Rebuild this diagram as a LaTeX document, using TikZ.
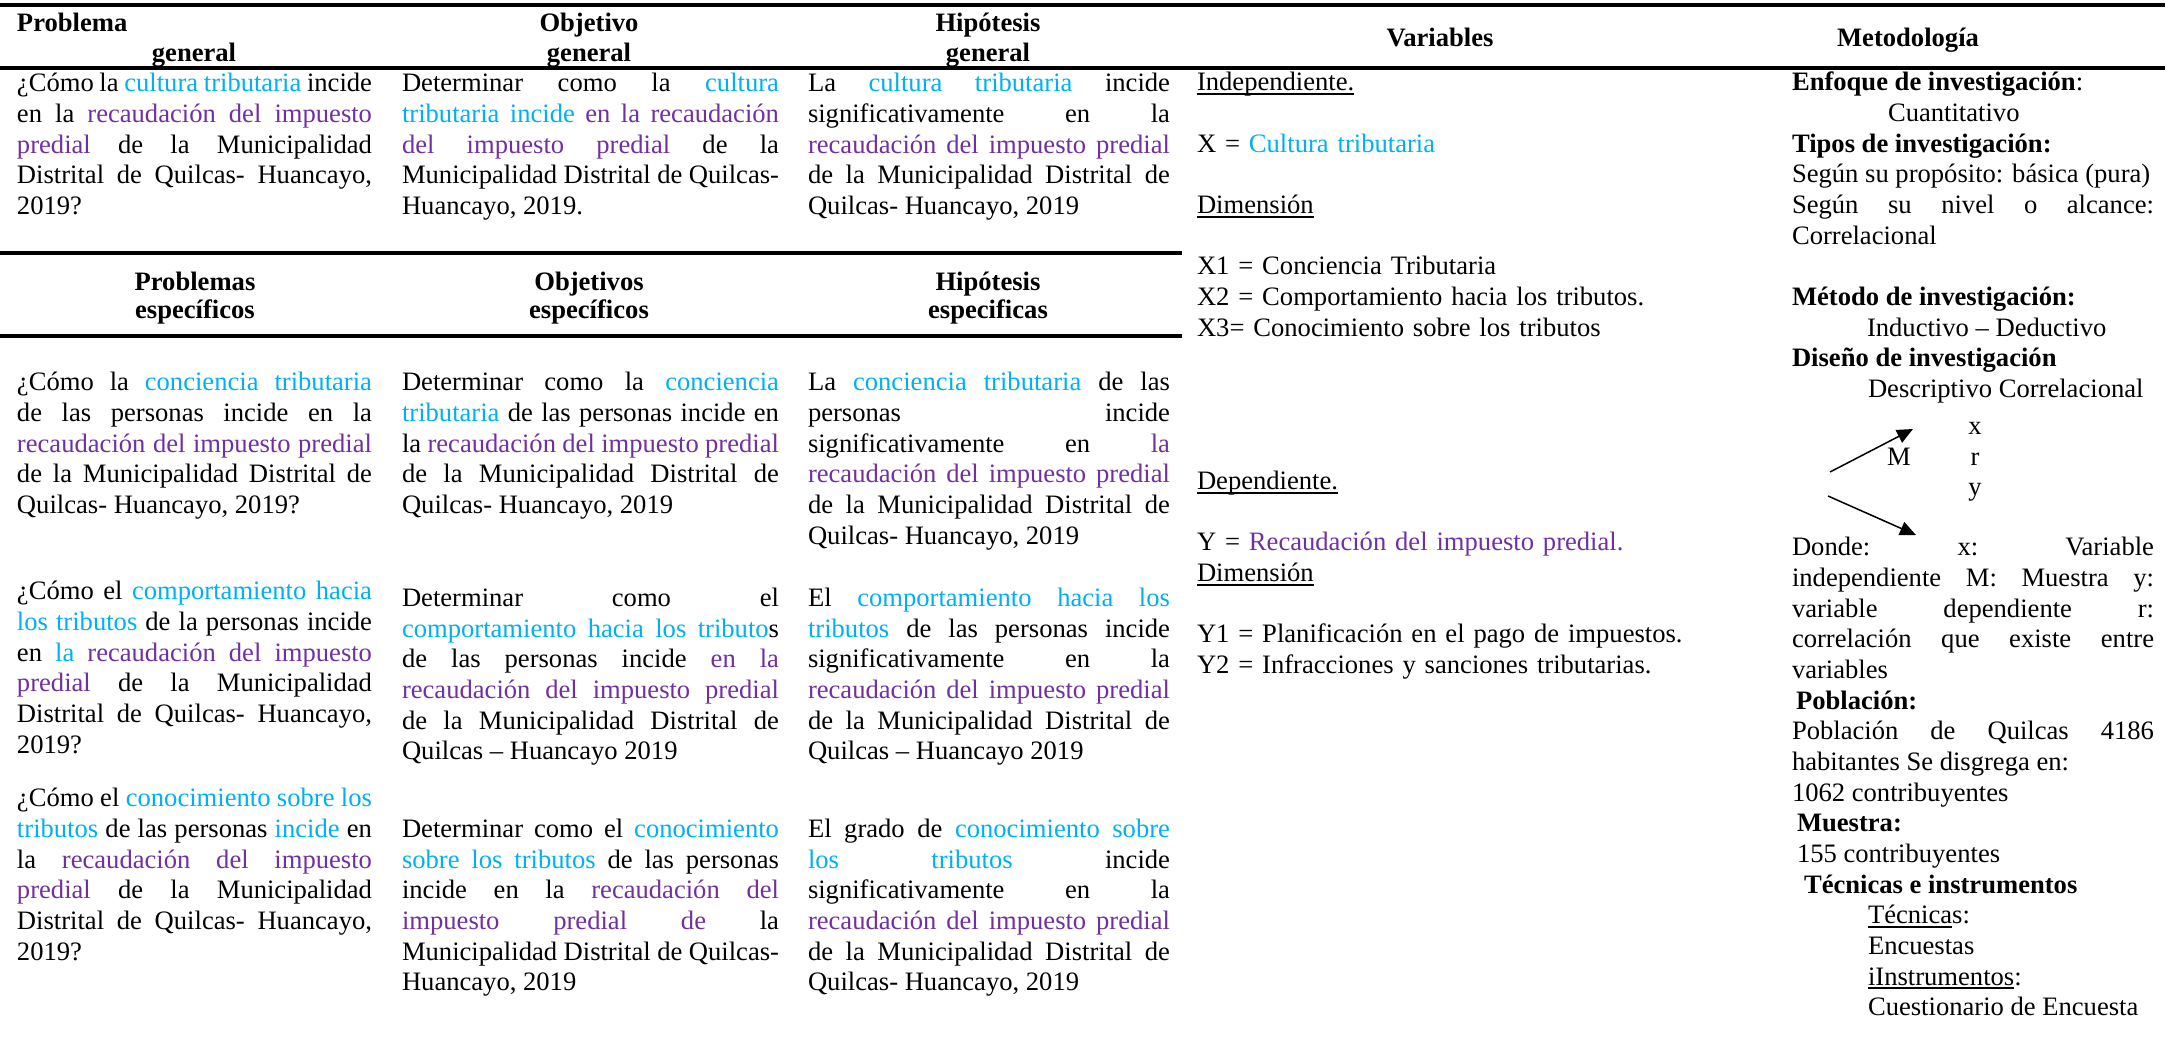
\documentclass[tikz,border=0pt]{standalone}
\usepackage{fontspec}
\setmainfont{Liberation Serif}
\usetikzlibrary{arrows.meta}
\definecolor{celeste}{HTML}{00B0F0}
\definecolor{lila}{HTML}{7030A0}
\newcommand{\cel}[1]{{\color{celeste}#1}}
\newcommand{\lil}[1]{{\color{lila}#1}}
\newsavebox{\cajasub}
\newcommand{\subr}[1]{\leavevmode\sbox{\cajasub}{#1}\rlap{\rule[-2pt]{\wd\cajasub}{0.9pt}}\usebox{\cajasub}}
\tolerance=10000 \hbadness=10000 \hyphenpenalty=10000 \exhyphenpenalty=10000
\setlength{\parindent}{0pt}
\tikzset{
  texto/.style={inner sep=0pt, outer sep=0pt, font=\fontsize{13.3pt}{15.33pt}\selectfont},
  celda/.style={texto, anchor=north west, align=justify, execute at begin node=\strut},
  titulo/.style={texto, anchor=base, font=\fontsize{13.3pt}{15.33pt}\selectfont\bfseries},
  regla/.style={line width=1.7pt},
  flecha/.style={-{Triangle[length=8pt,width=7pt]}, line width=0.75pt}
}

\begin{document}
\begin{tikzpicture}[x=0.5pt, y=-0.5pt]
      \useasboundingbox (0,0) rectangle (2176,1057);

      \draw[regla] (0,5) -- (2165,5);
      \draw[regla] (0,68) -- (2165,68);
      \draw[regla] (0,253) -- (1182,253);
      \draw[regla] (0,336) -- (1182,336);

      \node (probA) [titulo, anchor=base west] at (17,31) {Problema};
      \node (probB) [titulo] at (194,61) {general};
      \node (objA) [titulo] at (589,31) {Objetivo};
      \node (objB) [titulo] at (589,61) {general};
      \node (hipA) [titulo] at (988,31) {Hipótesis};
      \node (hipB) [titulo] at (988,61) {general};
      \node (vars) [titulo] at (1440,46) {Variables};
      \node (meto) [titulo] at (1908,46) {Metodología};

      \node (probEA) [titulo] at (195,290) {Problemas};
      \node (probEB) [titulo] at (195,318) {específicos};
      \node (objEA) [titulo] at (589,290) {Objetivos};
      \node (objEB) [titulo] at (589,318) {específicos};
      \node (hipEA) [titulo] at (988,290) {Hipótesis};
      \node (hipEB) [titulo] at (988,318) {especificas};

      \node (pg) [celda, text width=177.5pt] at (17,70.5) {
        ¿Cómo la \cel{cultura tributaria} incide\linebreak
        en la \lil{recaudación del impuesto}\linebreak
        \lil{predial} de la Municipalidad\linebreak
        Distrital de Quilcas- Huancayo,\linebreak
        2019?};
      \node (og) [celda, text width=188.5pt] at (402,70.5) {
        Determinar como la \cel{cultura}\linebreak
        \cel{tributaria incide} \lil{en la recaudación}\linebreak
        \lil{del impuesto predial} de la\linebreak
        Municipalidad Distrital de Quilcas-\linebreak
        Huancayo, 2019.};
      \node (hg) [celda, text width=181pt] at (808,70.5) {
        La \cel{cultura tributaria} incide\linebreak
        significativamente en la\linebreak
        \lil{recaudación del impuesto predial}\linebreak
        de la Municipalidad Distrital de\linebreak
        Quilcas- Huancayo, 2019};

      \node (pe1) [celda, text width=177.5pt] at (17,369.5) {
        ¿Cómo la \cel{conciencia tributaria}\linebreak
        de las personas incide en la\linebreak
        \lil{recaudación del impuesto predial}\linebreak
        de la Municipalidad Distrital de\linebreak
        Quilcas- Huancayo, 2019?};
      \node (oe1) [celda, text width=188.5pt] at (402,369.5) {
        Determinar como la \cel{conciencia}\linebreak
        \cel{tributaria} de las personas incide en\linebreak
        la \lil{recaudación del impuesto predial}\linebreak
        de la Municipalidad Distrital de\linebreak
        Quilcas- Huancayo, 2019};
      \node (he1) [celda, text width=181pt] at (808,369.5) {
        La \cel{conciencia tributaria} de las\linebreak
        personas incide\linebreak
        significativamente en \lil{la}\linebreak
        \lil{recaudación del impuesto predial}\linebreak
        de la Municipalidad Distrital de\linebreak
        Quilcas- Huancayo, 2019};

      \node (pe2) [celda, text width=177.5pt] at (17,578.5) {
        ¿Cómo el \cel{comportamiento hacia}\linebreak
        \cel{los tributos} de la personas incide\linebreak
        en \cel{la} \lil{recaudación del impuesto}\linebreak
        \lil{predial} de la Municipalidad\linebreak
        Distrital de Quilcas- Huancayo,\linebreak
        2019?};
      \node (oe2) [celda, text width=188.5pt] at (402,585) {
        Determinar como el\linebreak
        \cel{comportamiento hacia los tributo}s\linebreak
        de las personas incide \lil{en la}\linebreak
        \lil{recaudación del impuesto predial}\linebreak
        de la Municipalidad Distrital de\linebreak
        Quilcas – Huancayo 2019};
      \node (he2) [celda, text width=181pt] at (808,585) {
        El \cel{comportamiento hacia los}\linebreak
        \cel{tributos} de las personas incide\linebreak
        significativamente en la\linebreak
        \lil{recaudación del impuesto predial}\linebreak
        de la Municipalidad Distrital de\linebreak
        Quilcas – Huancayo 2019};

      \node (pe3) [celda, text width=177.5pt] at (17,785.5) {
        ¿Cómo el \cel{conocimiento sobre los}\linebreak
        \cel{tributos} de las personas \cel{incide} en\linebreak
        la \lil{recaudación del impuesto}\linebreak
        \lil{predial} de la Municipalidad\linebreak
        Distrital de Quilcas- Huancayo,\linebreak
        2019?};
      \node (oe3) [celda, text width=188.5pt] at (402,816) {
        Determinar como el \cel{conocimiento}\linebreak
        \cel{sobre los tributos} de las personas\linebreak
        incide en la \lil{recaudación del}\linebreak
        \lil{impuesto predial de} la\linebreak
        Municipalidad Distrital de Quilcas-\linebreak
        Huancayo, 2019};
      \node (he3) [celda, text width=181pt] at (808,816) {
        El grado de \cel{conocimiento sobre}\linebreak
        \cel{los tributos} incide\linebreak
        significativamente en la\linebreak
        \lil{recaudación del impuesto predial}\linebreak
        de la Municipalidad Distrital de\linebreak
        Quilcas- Huancayo, 2019};

      \node (varcol) [celda, text width=280pt, align=left] at (1197,69.5) {
        \subr{Independiente.}\par\mbox{}\par
        X = \cel{Cultura tributaria}\par\mbox{}\par
        \subr{Dimensión}\par\mbox{}\par
        X1 = Conciencia Tributaria\par
        X2 = Comportamiento hacia los tributos.\par
        X3= Conocimiento sobre los tributos\par
        \mbox{}\par\mbox{}\par\mbox{}\par\mbox{}\par
        \subr{Dependiente.}\par\mbox{}\par
        Y = \lil{Recaudación del impuesto predial.}\par
        \subr{Dimensión}\par\mbox{}\par
        Y1 = Planificación en el pago de impuestos.\par
        Y2 = Infracciones y sanciones tributarias.};

      \node (metoA) [celda, text width=181pt] at (1792,69.5) {
        \textbf{Enfoque de investigación}:\par
        \hspace*{48pt}Cuantitativo\par
        \textbf{Tipos de investigación:}\par
        Según su propósito: básica (pura)\par
        Según su nivel o alcance:\linebreak
        Correlacional\par\mbox{}\par
        \textbf{Método de investigación:}\par
        \hspace*{37.5pt}Inductivo – Deductivo\par
        \textbf{Diseño de investigación}\par
        \hspace*{38pt}Descriptivo Correlacional};

      \node (dx) [texto, anchor=base] at (1975,434) {x};
      \node (dM) [texto, anchor=base] at (1899,465) {M};
      \node (dr) [texto, anchor=base] at (1975,465) {r};
      \node (dy) [texto, anchor=base] at (1975,495) {y};
      \coordinate (m1) at (1830,472);
      \coordinate (px) at (1913,429);
      \coordinate (m2) at (1828,496);
      \coordinate (py) at (1916,535);
      \draw[flecha] (m1) to (px);
      \draw[flecha] (m2) to (py);

      \node (metoB) [celda, text width=181pt] at (1792,534.5) {
        Donde: x: Variable\linebreak
        independiente M: Muestra y:\linebreak
        variable dependiente r:\linebreak
        correlación que existe entre\linebreak
        variables\par
        \hspace*{2pt}\textbf{Población:}\par
        Población de Quilcas 4186\linebreak
        habitantes Se disgrega en:\par
        1062 contribuyentes\par
        \hspace*{2.5pt}\textbf{Muestra:}\par
        \hspace*{2.5pt}155 contribuyentes\par
        \hspace*{6pt}\textbf{Técnicas e instrumentos}\par
        \hspace*{38pt}\subr{Técnica}s:\par
        \hspace*{38pt}Encuestas\par
        \hspace*{38pt}\subr{iInstrumentos}:\par
        \hspace*{38pt}Cuestionario de Encuesta};
    \end{tikzpicture}
\end{document}
